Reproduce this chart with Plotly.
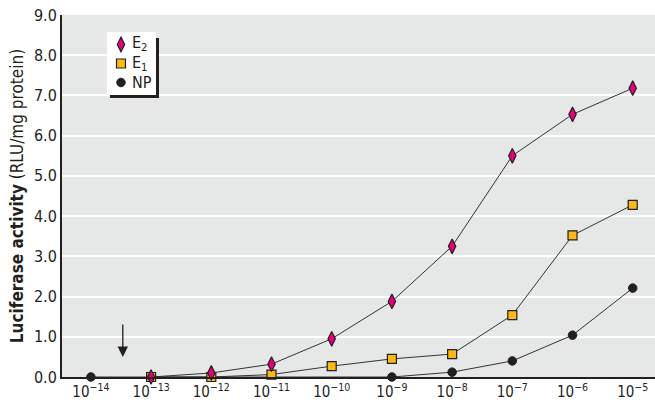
import plotly.graph_objects as go

exponents = [-14, -13, -12, -11, -10, -9, -8, -7, -6, -5]
tick_labels = ["10<sup>\u221214</sup>", "10<sup>\u221213</sup>", "10<sup>\u221212</sup>", "10<sup>\u221211</sup>",
               "10<sup>\u221210</sup>", "10<sup>\u22129</sup>", "10<sup>\u22128</sup>", "10<sup>\u22127</sup>",
               "10<sup>\u22126</sup>", "10<sup>\u22125</sup>"]
conc_e2 = [1e-13, 1e-12, 1e-11, 1e-10, 1e-9, 1e-8, 1e-7, 1e-6, 1e-5]
e2 = [0.0, 0.1, 0.32, 0.95, 1.88, 3.25, 5.5, 6.53, 7.18]
conc_e1 = [1e-13, 1e-12, 1e-11, 1e-10, 1e-9, 1e-8, 1e-7, 1e-6, 1e-5]
e1 = [0.0, 0.0, 0.06, 0.27, 0.45, 0.57, 1.54, 3.52, 4.28]
conc_np = [1e-14, 1e-13, 1e-12, 1e-11, 1e-10, 1e-9, 1e-8, 1e-7, 1e-6, 1e-5]
np_vals = [0.0, 0.0, 0.0, -0.01, -0.01, 0.0, 0.12, 0.4, 1.04, 2.21]
y_ticks = [0, 1, 2, 3, 4, 5, 6, 7, 8, 9]
series_labels = ["E<sub>2</sub>", "E<sub>1</sub>", "NP"]

font_family = "DejaVu Sans Condensed, Liberation Sans, sans-serif"
line_style = dict(color="#333333", width=1)

np_marker = dict(symbol="circle", size=8.5, color="#231f20", line=dict(color="#231f20", width=1))
e1_marker = dict(symbol="square", size=9, color="#fdb913", line=dict(color="#231f20", width=1.2))
e2_marker = dict(symbol="diamond-tall", size=10.5, color="#e6007e", line=dict(color="#231f20", width=1.2))

fig = go.Figure()
fig.add_trace(go.Scatter(x=conc_np, y=np_vals, name="NP", mode="lines+markers", line=line_style,
                         showlegend=False, marker=np_marker, cliponaxis=False))
fig.add_trace(go.Scatter(x=conc_e1, y=e1, name="E1", mode="lines+markers", line=line_style,
                         showlegend=False, marker=e1_marker, cliponaxis=False))
fig.add_trace(go.Scatter(x=conc_e2, y=e2, name="E2", mode="lines+markers", line=line_style,
                         showlegend=False, marker=e2_marker, cliponaxis=False))
# legend symbols (markers only); labels are drawn as annotations
fig.add_trace(go.Scatter(x=[None], y=[None], name=" ", mode="markers", marker=np_marker))
fig.add_trace(go.Scatter(x=[None], y=[None], name=" ", mode="markers", marker=e1_marker))
fig.add_trace(go.Scatter(x=[None], y=[None], name=" ", mode="markers", marker=e2_marker))

W, H = 655, 403
L, R, T, B = 62, 0, 15, 26
pw, ph = W - L - R, H - T - B

def px(x):
    return (x - L) / pw

def py(y):
    return 1 - (y - T) / ph

label_rows = [44, 63, 82]
legend_text = [dict(x=px(130), y=py(r), xref="paper", yref="paper", text=t, showarrow=False,
                    xanchor="left", yanchor="middle", font=dict(size=16))
               for t, r in zip(series_labels, label_rows)]

fig.update_layout(
    width=W, height=H,
    margin=dict(l=L, r=R, t=T, b=B),
    paper_bgcolor="white",
    plot_bgcolor="#e6e7e7",
    font=dict(family=font_family, size=15, color="#231f20"),
    showlegend=True,
    legend=dict(traceorder="reversed", x=px(101), y=py(30), xanchor="left", yanchor="top",
                bgcolor="rgba(0,0,0,0)", borderwidth=0, font=dict(size=12, family=font_family),
                itemwidth=30, tracegroupgap=0),
    xaxis=dict(type="log", range=[-14.48, -4.63], tickvals=[10.0 ** e for e in exponents],
               ticktext=tick_labels, showgrid=False, zeroline=False, showline=True,
               linecolor="#231f20", linewidth=2, ticks="", tickfont=dict(size=15)),
    yaxis=dict(range=[0, 9], tickvals=y_ticks, ticktext=[f"{v:.1f}" for v in y_ticks],
               showgrid=True, gridcolor="white", gridwidth=1.5, zeroline=False, showline=True,
               linecolor="#231f20", linewidth=2, ticks="", tickfont=dict(size=16),
               title=dict(text="<b>Luciferase activity</b> (RLU/mg protein)", font=dict(size=17), standoff=6)),
    shapes=[
        dict(type="rect", xref="paper", yref="paper", x0=px(110), x1=px(159), y0=py(98), y1=py(38),
             fillcolor="#231f20", line=dict(width=0), layer="above"),
        dict(type="rect", xref="paper", yref="paper", x0=px(107), x1=px(156), y0=py(95), y1=py(32),
             fillcolor="white", line=dict(width=0), layer="above"),
    ],
    annotations=[
        dict(x=-13.47, y=0.5, xref="x", yref="y", ax=0, ay=-34, showarrow=True,
             arrowhead=2, arrowsize=1.6, arrowwidth=1.3, arrowcolor="#231f20", text=""),
    ] + legend_text,
)

fig.write_html("out.html", config={"displayModeBar": False},
               post_script="document.body.style.margin='0';document.body.style.overflow='hidden';")
